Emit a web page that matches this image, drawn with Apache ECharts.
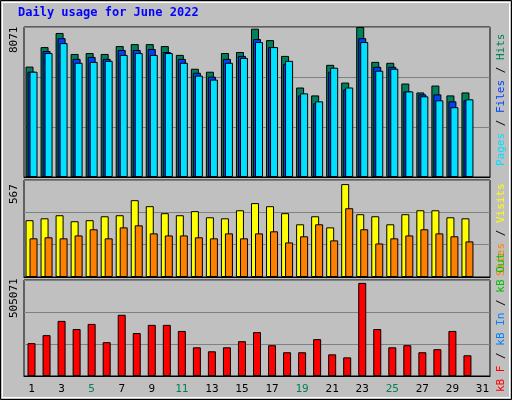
<!DOCTYPE html>
<html><head><meta charset="utf-8">
<script src="https://cdn.jsdelivr.net/npm/echarts@6/dist/echarts.min.js"></script>
<style>html,body{margin:0;padding:0;background:#c0c0c0}#c{width:512px;height:400px}</style>
</head><body><div id="c"></div>
<script>
const days = Array.from({length:31},(_,i)=>String(i+1));
const weekendDays = ['4','5','11','12','18','19','25','26'];
const hits  = [5940,6990,7750,6620,6670,6620,7045,7150,7150,7045,6570,5825,5665,6670,6725,7980,7365,6515,4815,4390,6035,5080,8071,6195,6145,5030,4550,4920,4390,4550,null];
const files = [5665,6780,7470,6355,6460,6355,6835,6835,6885,6725,6355,5610,5400,6355,6515,7420,6990,6090,4390,3965,5665,4710,7470,5930,5930,4605,4445,4445,4070,4125,null];
const pages = [5665,6670,7205,6145,6195,6250,6570,6670,6570,6670,6145,5455,5240,6145,6410,7260,6990,6250,4500,4070,5880,4815,7260,5720,5825,4605,4340,4125,3755,4180,null];
const visits= [332,343,361,326,332,355,361,449,414,373,361,385,349,343,390,432,414,373,308,355,290,543,367,355,308,367,390,390,349,343,null];
const sites = [226,232,226,243,279,226,290,302,255,243,243,232,226,255,226,255,267,202,238,308,214,402,279,196,226,243,279,255,238,208,null];
const kbF   = [173000,215000,290000,247000,274000,178000,322000,226000,269000,269000,237000,151000,130000,151000,183000,231000,162000,125000,125000,194000,114000,98000,490000,247000,151000,162000,125000,141000,237000,109000,null];
const maxHits = 8071, maxVisits = 567, maxKB = 505071;

const mono = 'DejaVu Sans Mono';
const border = {borderColor:'#000',borderWidth:1};
function xAx(i, show){
  return {type:'category',data:days,gridIndex:i,
    axisLine:{show:true,lineStyle:{color:'#000'}},axisTick:{show:false},
    axisLabel:{show:show,fontFamily:mono,fontSize:11,margin:8,
      color:(v)=>weekendDays.includes(v)?'#00805c':'#000'}};
}
function yAx(i,max){
  return {type:'value',gridIndex:i,min:0,max:max,interval:max/3,
    axisLabel:{show:false},axisLine:{show:false},axisTick:{show:false},
    splitLine:{lineStyle:{color:'#808080',width:1}}};
}
const grids=[
  {left:24,top:27,width:466,height:150,show:true,borderColor:'#000',backgroundColor:'#c0c0c0'},
  {left:24,top:180,width:466,height:97,show:true,borderColor:'#000',backgroundColor:'#c0c0c0'},
  {left:24,top:280,width:466,height:96,show:true,borderColor:'#000',backgroundColor:'#c0c0c0'}
];
function bar(name,data,color,gi,gap){
  return {type:'bar',name,data,xAxisIndex:gi,yAxisIndex:gi,barWidth:8,barGap:gap,
    itemStyle:Object.assign({color},border),animation:false};
}
const chart=echarts.init(document.getElementById('c'));
chart.setOption({
  backgroundColor:'#c0c0c0',animation:false,
  grid:grids,
  xAxis:[xAx(0,false),xAx(1,false),xAx(2,true)],
  yAxis:[yAx(0,maxHits),yAx(1,maxVisits),yAx(2,maxKB)],
  series:[
    bar('Hits',hits,'#00805c',0,'-75%'),
    bar('Files',files,'#0040ff',0,'-75%'),
    bar('Pages',pages,'#00e0ff',0,'-75%'),
    bar('Visits',visits,'#ffff00',1,'-50%'),
    bar('Sites',sites,'#ff8000',1,'-50%'),
    bar('KB F',kbF,'#ff0000',2,'0%')
  ],
  graphic:[
    {type:'rect',shape:{x:0.5,y:0.5,width:511,height:399},style:{fill:'none',stroke:'#000',lineWidth:1}},
    {type:'rect',shape:{x:2.5,y:2.5,width:507,height:395},style:{fill:'none',stroke:'#fff',lineWidth:1}},
    {type:'text',left:18,top:7,style:{text:'Daily usage for June 2022',fill:'#0000ff',font:'bold 12px "DejaVu Sans Mono"'}},
    {type:'text',x:9,y:53,rotation:Math.PI/2,style:{text:String(maxHits),fill:'#000',font:'11px "DejaVu Sans Mono"'}},
    {type:'text',x:9,y:204,rotation:Math.PI/2,style:{text:String(maxVisits),fill:'#000',font:'11px "DejaVu Sans Mono"'}},
    {type:'text',x:9,y:318,rotation:Math.PI/2,style:{text:String(maxKB),fill:'#000',font:'11px "DejaVu Sans Mono"'}},
    {type:'text',x:496,y:166,rotation:Math.PI/2,style:{
      text:'{p|Pages} {s|/} {f|Files} {s|/} {h|Hits}',font:'11px "DejaVu Sans Mono"',
      rich:{p:{fill:'#00e0ff',font:'11px "DejaVu Sans Mono"'},f:{fill:'#0040ff',font:'11px "DejaVu Sans Mono"'},h:{fill:'#00805c',font:'11px "DejaVu Sans Mono"'},s:{fill:'#000',font:'11px "DejaVu Sans Mono"'}}}},
    {type:'text',x:496,y:276,rotation:Math.PI/2,style:{
      text:'{s2|Sites} {s|/} {v|Visits}',font:'11px "DejaVu Sans Mono"',
      rich:{s2:{fill:'#ff8000',font:'11px "DejaVu Sans Mono"'},v:{fill:'#ffff00',font:'11px "DejaVu Sans Mono"'},s:{fill:'#000',font:'11px "DejaVu Sans Mono"'}}}},
    {type:'text',x:496,y:392,rotation:Math.PI/2,style:{
      text:'{r|kB F} {s|/} {b|kB In} {s|/} {g|kB Out}',font:'11px "DejaVu Sans Mono"',
      rich:{r:{fill:'#ff0000',font:'11px "DejaVu Sans Mono"'},b:{fill:'#0080ff',font:'11px "DejaVu Sans Mono"'},g:{fill:'#00c000',font:'11px "DejaVu Sans Mono"'},s:{fill:'#000',font:'11px "DejaVu Sans Mono"'}}}}
  ]
});
</script></body></html>
